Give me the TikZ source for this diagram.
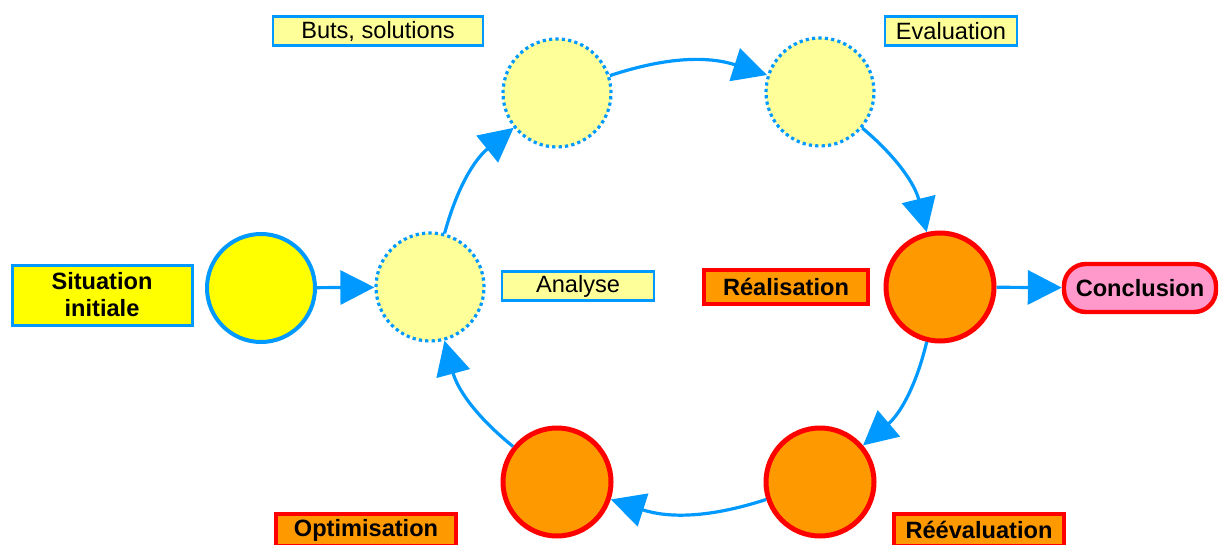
\documentclass[tikz,border=0pt]{standalone}
\usepackage{fontspec}
\setmainfont{Liberation Sans}
\usepackage{tikz}
\usepackage{xcolor}
\usetikzlibrary{arrows.meta}

\definecolor{cycleblue}{HTML}{0099FF}
\definecolor{paleyellow}{HTML}{FFFF99}
\definecolor{fullyellow}{HTML}{FFFF00}
\definecolor{darkorange}{HTML}{FF9900}
\definecolor{cyclered}{HTML}{FF0000}
\definecolor{softpink}{HTML}{FF99CC}

\tikzset{
    every node/.style={font=\fontsize{11.8}{14}\selectfont, inner sep=0pt},
    startdot/.style={circle, draw=cycleblue, line width=2pt, fill=fullyellow, minimum size=54pt},
    plandot/.style={circle, draw=cycleblue, line width=1.6pt, dash pattern=on 1.6pt off 1.6pt, fill=paleyellow, minimum size=54pt},
    actdot/.style={circle, draw=cyclered, line width=2.5pt, fill=darkorange, minimum size=54pt},
    planlabel/.style={draw=cycleblue, line width=1.3pt, fill=paleyellow, minimum height=14.5pt},
    actlabel/.style={draw=cyclered, line width=1.8pt, fill=darkorange, font=\fontsize{11.8}{14}\selectfont\bfseries, minimum height=16pt},
    flow/.style={draw=cycleblue, line width=1.6pt, -{Triangle[length=17pt, width=17pt]}}
}

\begin{document}
\begin{tikzpicture}[x=0.5pt, y=-0.5pt]
    \useasboundingbox (0,0) rectangle (1219,545);

    % circles of the cycle
    \node[startdot] (start) at (261,288) {};
    \node[plandot] (analyse) at (430,287) {};
    \node[plandot] (buts) at (557,93) {};
    \node[plandot] (eval) at (820,92) {};
    \node[actdot] (real) at (940,287) {};
    \node[actdot] (reeval) at (820,482) {};
    \node[actdot] (optim) at (557,482) {};

    % labels
    \node[draw=cycleblue, line width=1.5pt, fill=fullyellow, minimum width=90pt, minimum height=30pt,
          align=center, font=\fontsize{11.8}{13.5}\selectfont\bfseries] (startlbl) at (102,295) {Situation\\initiale};
    \node[planlabel, minimum width=105pt] (butslbl) at (378,31) {Buts, solutions};
    \node[planlabel, minimum width=66pt] (evallbl) at (951,31) {Evaluation};
    \node[planlabel, minimum width=76pt] (analyselbl) at (578,286) {Analyse};
    \node[actlabel, minimum width=82pt, minimum height=17pt] (reallbl) at (786,287) {Réalisation};
    \node[actlabel, minimum width=90pt] (optimlbl) at (366,530) {Optimisation};
    \node[actlabel, minimum width=85pt] (reevallbl) at (979,530) {Réévaluation};
    \node[rounded corners=11pt, draw=cyclered, line width=2.2pt, fill=softpink, minimum width=76pt, minimum height=24pt,
          font=\fontsize{11.8}{14}\selectfont\bfseries] (concl) at (1140,288) {Conclusion};

    % arrows
    \draw[flow] (start) -- (analyse);
    \draw[flow] (analyse) to[bend left=18] (buts);
    \draw[flow] (buts) to[bend left=18] (eval);
    \draw[flow] (eval) to[bend left=18] (real);
    \draw[flow] (real) to[bend left=18] (reeval);
    \draw[flow] (reeval) to[bend left=18] (optim);
    \draw[flow] (optim) to[bend left=18] (analyse);
    \draw[flow] (real) -- (concl);
\end{tikzpicture}
\end{document}
